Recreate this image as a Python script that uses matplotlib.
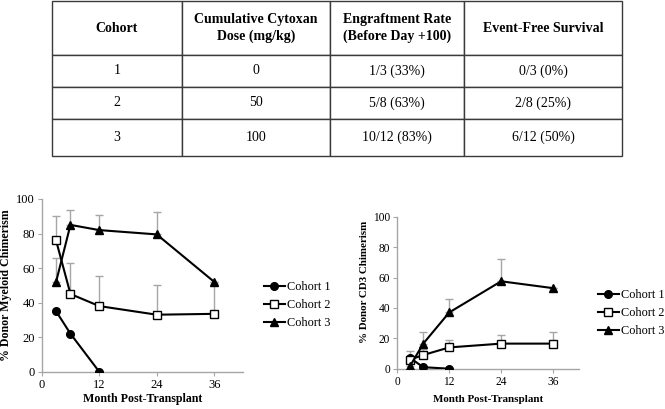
import matplotlib
matplotlib.use("Agg")
import matplotlib.pyplot as plt

plt.rcParams['font.family'] = ['Liberation Serif', 'DejaVu Serif']

# table data
col_labels = ["Cohort", "Cumulative Cytoxan\nDose (mg/kg)", "Engraftment Rate\n(Before Day +100)", "Event-Free Survival"]
cohort_ids = ["1", "2", "3"]
doses = ["0", "50", "100"]
engraft = ["1/3 (33%)", "5/8 (63%)", "10/12 (83%)"]
efs = ["0/3 (0%)", "2/8 (25%)", "6/12 (50%)"]

# chart data
cohorts = ["Cohort 1", "Cohort 2", "Cohort 3"]
months = [[3, 6, 12], [3, 6, 12, 24, 36], [3, 6, 12, 24, 36]]
myeloid = [[35, 22, 0], [76, 45, 38, 33, 33.5], [52, 85, 82, 79.5, 52]]
myeloid_err = [[0, 0, 0], [14, 18, 17.5, 17, 17], [14, 8.5, 9, 13, 0]]
cd3 = [[7, 1, 0], [6, 9, 14, 16.5, 16.5], [2, 16.5, 37, 57.5, 53]]
cd3_err = [[0, 0, 0], [0, 4, 5, 5.5, 7.5], [9.5, 7.5, 9, 14.5, 0]]

markers = ["o", "s", "^"]
faces = ["black", "white", "black"]

fig = plt.figure(figsize=(6.65, 4.09), dpi=100)
W, H = 665, 409

def box(x0, y0, x1, y1):
    return [x0 / W, 1 - y1 / H, (x1 - x0) / W, (y1 - y0) / H]

# ---- table
tax = fig.add_axes(box(52, 1, 622, 156))
tax.axis('off')
rows = [list(r) for r in zip(cohort_ids, doses, engraft, efs)]
tbl = tax.table(cellText=rows, colLabels=col_labels, cellLoc='center', bbox=[0, 0, 1, 1])
tbl.auto_set_font_size(False)
col_w = [130, 148, 134, 158]
row_h = [54, 32, 32, 37]
for (r, c), cell in tbl.get_celld().items():
    cell.set_width(col_w[c])
    cell.set_height(row_h[r])
    cell.set_edgecolor('#3a3a3a')
    cell.set_linewidth(1.0)
    cell.get_text().set_fontsize(10)
    if r == 0:
        cell.get_text().set_fontweight('bold')
        cell.get_text().set_linespacing(1.3)

# ---- line charts
def chart(rect, ys, errs, ylabel, leg_anchor, tick_fs, lab_fs, xpad, ylab_y):
    ax = fig.add_axes(rect)
    for i in range(3):
        ax.errorbar(months[i], ys[i], yerr=[[0] * len(errs[i]), errs[i]], fmt='none',
                    ecolor='#a6a6a6', elinewidth=1, capsize=3, capthick=1, zorder=1)
    handles = []
    for i in range(3):
        h, = ax.plot(months[i], ys[i], color='black', lw=1.5, marker=markers[i],
                     mfc=faces[i], mec='black', ms=5.5, mew=1, zorder=3, label=cohorts[i])
        handles.append(h)
    ax.set_xlim(0, 42)
    ax.set_ylim(0, 100)
    ax.set_xticks([0, 12, 24, 36])
    ax.set_yticks(range(0, 101, 20))
    for s in ['top', 'right']:
        ax.spines[s].set_visible(False)
    for s in ['left', 'bottom']:
        ax.spines[s].set_color('#a6a6a6')
        ax.spines[s].set_linewidth(1)
    ax.tick_params(colors='#a6a6a6', labelcolor='black', labelsize=tick_fs, length=3, pad=2)
    ax.set_xlabel("Month Post-Transplant", fontsize=lab_fs, fontweight='bold', labelpad=xpad)
    ax.set_ylabel(ylabel, fontsize=lab_fs, fontweight='bold', labelpad=3)
    ax.yaxis.label.set_y(ylab_y)
    fig.legend(handles=handles, loc='center left', bbox_to_anchor=leg_anchor,
               frameon=False, fontsize=8.8, handlelength=1.7, handletextpad=0.15,
               labelspacing=0.5, borderaxespad=0, borderpad=0)
    return ax

chart(box(41.7, 199, 243, 371.7), myeloid, myeloid_err, "% Donor Myeloid Chimerism",
      (264 / W, 1 - 305 / H), 9, 8.6, 2, 0.5)
chart(box(397.3, 216.7, 579, 368.7), cd3, cd3_err, "% Donor CD3 Chimerism",
      (598 / W, 1 - 313 / H), 8.3, 7.9, 5, 0.57)

fig.savefig("out.png", dpi=100)
